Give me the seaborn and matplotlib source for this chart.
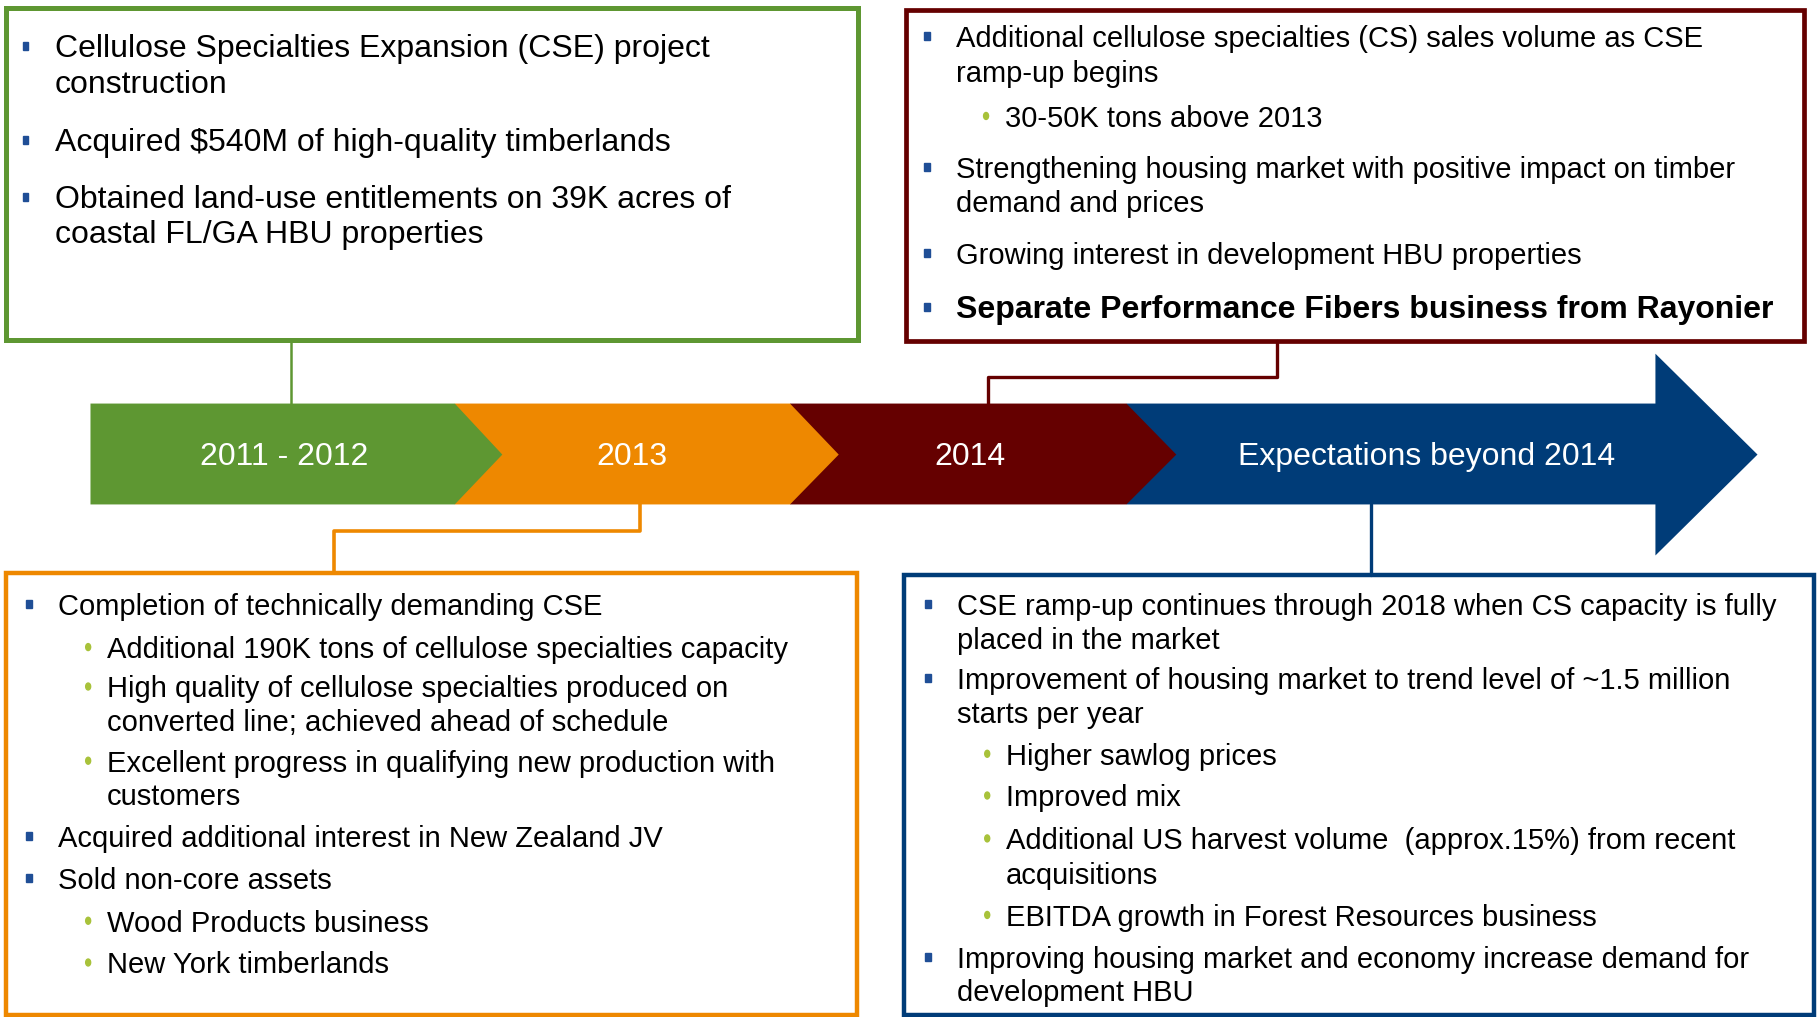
"""
Timeline graphic: 2011-2012 / 2013 / 2014 / beyond 2014 milestones,
rebuilt with seaborn + matplotlib patches.
"""

import matplotlib
matplotlib.use("Agg")
import matplotlib.pyplot as plt
from matplotlib.patches import Polygon, Rectangle, Ellipse
import seaborn as sns

sns.set_theme(style="white")
plt.rcParams["font.family"] = ["Liberation Sans", "DejaVu Sans"]

# ---- data ---------------------------------------------------------------
phase_labels = ["2011 - 2012", "2013", "2014", "Expectations beyond 2014"]
phase_colors = ["#5E9732", "#EE8800", "#650000", "#003C78"]

green_lines = [
    "Cellulose Specialties Expansion (CSE) project",
    "construction",
    "Acquired $540M of high-quality timberlands",
    "Obtained land-use entitlements on 39K acres of",
    "coastal FL/GA HBU properties",
]
green_kind = ["main", "cont", "main", "main", "cont"]

red_lines = [
    "Additional cellulose specialties (CS) sales volume as CSE",
    "ramp-up begins",
    "30-50K tons above 2013",
    "Strengthening housing market with positive impact on timber",
    "demand and prices",
    "Growing interest in development HBU properties",
    "Separate Performance Fibers business from Rayonier",
]
red_kind = ["main", "cont", "sub", "main", "cont", "main", "bold"]

orange_lines = [
    "Completion of technically demanding CSE",
    "Additional 190K tons of cellulose specialties capacity",
    "High quality of cellulose specialties produced on",
    "converted line; achieved ahead of schedule",
    "Excellent progress in qualifying new production with",
    "customers",
    "Acquired additional interest in New Zealand JV",
    "Sold non-core assets",
    "Wood Products business",
    "New York timberlands",
]
orange_kind = ["main", "sub", "sub", "subcont", "sub", "subcont",
               "main", "main", "sub", "sub"]

blue_lines = [
    "CSE ramp-up continues through 2018 when CS capacity is fully",
    "placed in the market",
    "Improvement of housing market to trend level of ~1.5 million",
    "starts per year",
    "Higher sawlog prices",
    "Improved mix",
    "Additional US harvest volume  (approx.15%) from recent",
    "acquisitions",
    "EBITDA growth in Forest Resources business",
    "Improving housing market and economy increase demand for",
    "development HBU",
]
blue_kind = ["main", "cont", "main", "cont", "sub", "sub", "sub", "subcont",
             "sub", "main", "cont"]

# ---- layout (pixel space of the slide, y downwards) ---------------------
W, H = 1568, 877
green_y = [40, 71, 121, 170, 200]
red_y = [31, 61, 100, 144, 173, 218, 265]
orange_y = [521, 558, 592, 621, 656, 685, 721, 757, 794, 830]
blue_y = [521, 550, 585, 614, 650, 686, 723, 753, 789, 825, 854]
TEXT_DY = 2.5  # va="center" sits a touch high because of descenders

BULLET_BLUE = "#1F4E96"
DOT_GREEN = "#A8C23A"

fig = plt.figure(figsize=(18.19, 10.17), dpi=100)
ax = fig.add_axes([0, 0, 1, 1])
ax.set_xlim(0, W)
ax.set_ylim(H, 0)
ax.axis("off")


def draw_box(x0, x1, y0, y1, color, lw):
    ax.add_patch(Rectangle((x0, y0), x1 - x0, y1 - y0, fill=False,
                           edgecolor=color, linewidth=lw, zorder=3))


def draw_items(lines, kinds, ys, x_bul, fs):
    """Bulleted text; x_bul is the main bullet x position."""
    for txt, kind, y in zip(lines, kinds, ys):
        weight = "normal"
        size = fs
        if kind in ("main", "bold"):
            ax.add_patch(Rectangle((x_bul - 2.5, y - 3.4), 5.0, 6.8,
                                   color=BULLET_BLUE, zorder=4))
            x_txt = x_bul + 25
            if kind == "bold":
                weight = "bold"
                size = 23
        elif kind == "cont":
            x_txt = x_bul + 25
        elif kind == "sub":
            ax.add_patch(Ellipse((x_bul + 51, y), 4.3, 6.0,
                                 color=DOT_GREEN, zorder=4))
            x_txt = x_bul + 67
        else:  # subcont
            x_txt = x_bul + 67
        ax.text(x_txt, y + TEXT_DY, txt, fontsize=size, fontweight=weight,
                color="black", ha="left", va="center", zorder=5)


# timeline band, drawn back to front so each chevron tip overlaps the next
band_top, band_bot, band_mid = 348, 435, 392
blue_band = [(971, band_top), (1427, band_top), (1427, 305), (1515, band_mid),
             (1427, 479), (1427, band_bot), (971, band_bot)]
red_band = [(681, band_top), (971, band_top), (1014, band_mid),
            (971, band_bot), (681, band_bot)]
orange_band = [(392, band_top), (681, band_top), (723, band_mid),
               (681, band_bot), (392, band_bot)]
green_band = [(78, band_top), (392, band_top), (433, band_mid),
              (392, band_bot), (78, band_bot)]
for i, pts in enumerate([blue_band, red_band, orange_band, green_band]):
    ax.add_patch(Polygon(pts, closed=True, color=phase_colors[3 - i],
                         linewidth=0, zorder=1 + i))

label_x = [245, 545, 836, 1230]
for lab, x in zip(phase_labels, label_x):
    ax.text(x, band_mid + TEXT_DY, lab, color="white", fontsize=23,
            ha="center", va="center", zorder=6)

# connectors
ax.plot([251, 251], [293, band_top], color=phase_colors[0], lw=1.8, zorder=0)
ax.plot([1101, 1101, 852, 852], [294, 325, 325, band_top],
        color=phase_colors[2], lw=2.4, zorder=0)
ax.plot([552, 552, 288, 288], [band_bot, 458, 458, 494],
        color=phase_colors[1], lw=2.6, zorder=0)
ax.plot([1182, 1182], [band_bot, 496], color=phase_colors[3], lw=2.4,
        zorder=0)

# boxes
draw_box(5, 740, 7, 293, phase_colors[0], 3.6)
draw_box(781, 1555, 9, 294, phase_colors[2], 3.4)
draw_box(5, 739, 494, 875, phase_colors[1], 3.2)
draw_box(779, 1564, 496, 875, phase_colors[3], 3.2)

draw_items(green_lines, green_kind, green_y, 22, 23)
draw_items(red_lines, red_kind, red_y, 799, 21)
draw_items(orange_lines, orange_kind, orange_y, 25, 21)
draw_items(blue_lines, blue_kind, blue_y, 800, 21)

fig.savefig("out.png", dpi=100)
